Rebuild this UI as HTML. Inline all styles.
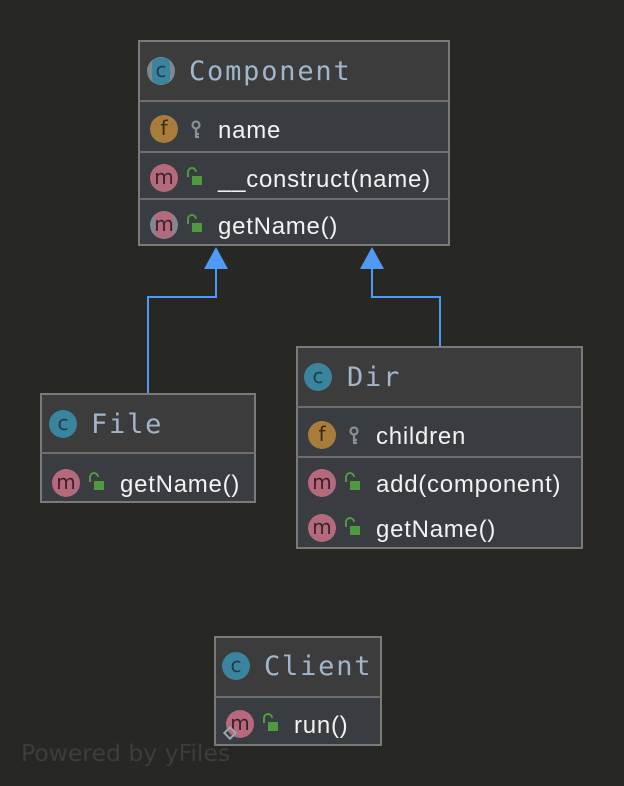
<!DOCTYPE html>
<html><head><meta charset="utf-8"><style>
html,body{margin:0;padding:0;background:#272723;}
svg{display:block}
.cn{font-family:"DejaVu Sans Mono","Liberation Mono",monospace;font-size:27px;letter-spacing:1.8px;fill:#a2b6cb;}
.mt{font-family:"Liberation Sans",sans-serif;font-size:24px;letter-spacing:0.75px;fill:#f2f2f2;}
.ic{font-family:"DejaVu Sans","Liberation Sans",sans-serif;font-size:20px;text-anchor:middle;}
</style></head><body>
<svg width="624" height="786" viewBox="0 0 624 786" xmlns="http://www.w3.org/2000/svg">
<defs>
<g id="lock"><path d="M-6,-1 v-5 a4,4 0 0 1 8,0" fill="none" stroke="#4e9a3e" stroke-width="2"/><rect x="-2" y="-2" width="10" height="9" fill="#4e9a3e"/></g>
<g id="key"><circle cx="0" cy="-4" r="3.5" fill="none" stroke="#8a9299" stroke-width="2.2"/><path d="M0,0 v9 M0,5 h3 M0,8 h3" stroke="#8a9299" stroke-width="2.2"/></g>
<g id="mic"><circle r="14" fill="#b46a7c"/><text class="ic" y="6" fill="#3a2228">m</text></g>
<g id="fic"><circle r="14" fill="#a87c3a"/><text class="ic" y="6" fill="#3a2a10">f</text></g>
<g id="cic"><circle r="14" fill="#3a849e"/><text class="ic" y="6" fill="#1f3d48">c</text></g>
</defs>
<g stroke="#4f9af5" stroke-width="2" fill="none">
<path d="M148,394 V297 H216 V268"/>
<path d="M440,347 V297 H372 V268"/>
</g>
<polygon points="216,247 204,269 228,269" fill="#4f9af5"/>
<polygon points="372,247 360,269 384,269" fill="#4f9af5"/>

<!-- Component -->
<rect x="139" y="41" width="310" height="204" fill="#393c40" stroke="#7a7a7a" stroke-width="2"/>
<rect x="140" y="42" width="308" height="59" fill="#3c3c3c"/>
<line x1="139" y1="101" x2="449" y2="101" stroke="#6e6e6e" stroke-width="2"/>
<line x1="139" y1="152" x2="449" y2="152" stroke="#6e6e6e" stroke-width="2"/>
<line x1="139" y1="199" x2="449" y2="199" stroke="#6e6e6e" stroke-width="2"/>
<circle cx="161" cy="71" r="14" fill="#7d8890"/><rect x="152" y="58" width="18" height="26" rx="6" fill="#3a849e"/><text class="ic" x="161" y="77" fill="#1f3d48">c</text>
<text class="cn" x="189" y="80">Component</text>
<use href="#fic" x="164" y="129"/><use href="#key" x="196" y="129"/><text class="mt" x="218" y="138">name</text>
<use href="#mic" x="164" y="178"/><use href="#lock" x="194" y="178"/><text class="mt" x="218" y="187">__construct(name)</text>
<circle cx="164" cy="225" r="14" fill="#7d8890"/><rect x="155" y="212" width="18" height="26" rx="6" fill="#b46a7c"/><text class="ic" x="164" y="231" fill="#3a2228">m</text>
<use href="#lock" x="194" y="225"/><text class="mt" x="218" y="234">getName()</text>

<!-- File -->
<rect x="41" y="394" width="214" height="108" fill="#393c40" stroke="#7a7a7a" stroke-width="2"/>
<rect x="42" y="395" width="212" height="57" fill="#3c3c3c"/>
<line x1="41" y1="453" x2="255" y2="453" stroke="#6e6e6e" stroke-width="2"/>
<use href="#cic" x="63" y="424"/><text class="cn" x="91" y="433">File</text>
<use href="#mic" x="66" y="483"/><use href="#lock" x="96" y="483"/><text class="mt" x="120" y="492">getName()</text>

<!-- Dir -->
<rect x="297" y="347" width="285" height="201" fill="#393c40" stroke="#7a7a7a" stroke-width="2"/>
<rect x="298" y="348" width="283" height="59" fill="#3c3c3c"/>
<line x1="297" y1="407" x2="582" y2="407" stroke="#6e6e6e" stroke-width="2"/>
<line x1="297" y1="457" x2="582" y2="457" stroke="#6e6e6e" stroke-width="2"/>
<use href="#cic" x="318" y="377"/><text class="cn" x="347" y="386">Dir</text>
<use href="#fic" x="322" y="435"/><use href="#key" x="354" y="435"/><text class="mt" x="376" y="444">children</text>
<use href="#mic" x="322" y="483"/><use href="#lock" x="352" y="483"/><text class="mt" x="376" y="492">add(component)</text>
<use href="#mic" x="322" y="528"/><use href="#lock" x="352" y="528"/><text class="mt" x="376" y="537">getName()</text>

<!-- Client -->
<rect x="215" y="637" width="166" height="108" fill="#393c40" stroke="#7a7a7a" stroke-width="2"/>
<rect x="216" y="638" width="164" height="58" fill="#3c3c3c"/>
<line x1="215" y1="697" x2="381" y2="697" stroke="#6e6e6e" stroke-width="2"/>
<use href="#cic" x="236" y="666"/><text class="cn" x="264" y="675">Client</text>
<use href="#mic" x="240" y="724"/>
<rect x="226" y="729" width="8" height="8" transform="rotate(45 230 733)" fill="none" stroke="#9aa6b0" stroke-width="2"/>
<use href="#lock" x="270" y="724"/><text class="mt" x="294" y="733">run()</text>

<text x="21" y="761" font-family="'DejaVu Sans','Liberation Sans',sans-serif" font-size="23.5" fill="#3d3d3a">Powered by yFiles</text>
</svg>
</body></html>
